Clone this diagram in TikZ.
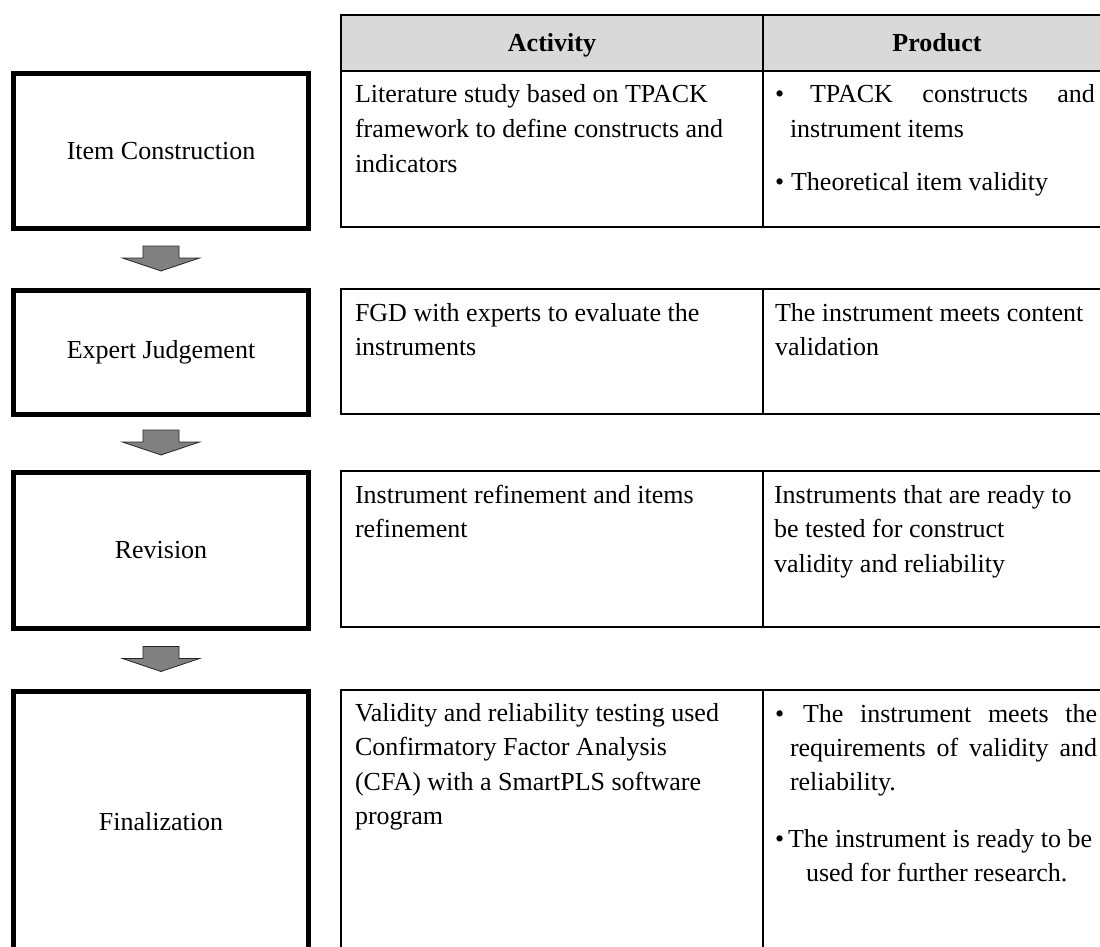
\documentclass[tikz,border=0pt]{standalone}
\usepackage{fontspec}
\setmainfont{Liberation Serif}
\usetikzlibrary{calc}
\definecolor{hdrgray}{HTML}{D9D9D9}
\definecolor{arrgray}{HTML}{808080}
\newcommand\stageArrow[2]{%
  \path[flow] ($(#1.south)!0.5!(#2.north)+(-18,-13.5)$) -- ++(36,0) -- ++(0,12)
    -- ++(20.5,0) -- ++(-38.5,13) -- ++(-38.5,-13) -- ++(20.5,0) -- cycle;}
\begin{document}
\begin{tikzpicture}[x=1pt,y=-1pt,
  every node/.style={font=\fontsize{26}{34.5}\selectfont, inner sep=0pt, outer sep=0pt},
  stage/.style={draw, line width=5pt, minimum width=295pt, align=center, outer sep=2.5pt},
  cell/.style={anchor=base west},
  head/.style={anchor=base, font=\fontsize{26}{30}\selectfont\bfseries},
  tline/.style={line width=1.8pt},
  flow/.style={fill=arrgray, draw=black!85, line width=0.8pt, line join=miter}
]
\path[use as bounding box, clip] (0,0) rectangle (1100,947);

% stages
\node[stage, minimum height=155pt] (s1) at (161,151) {Item Construction};
\node[stage, minimum height=124pt] (s2) at (161,352.5) {Expert Judgement};
\node[stage, minimum height=156pt] (s3) at (161,550.5) {Revision};
\node[stage, minimum height=261pt] (s4) at (161,822) {Finalization};

\stageArrow{s1}{s2}
\stageArrow{s2}{s3}
\stageArrow{s3}{s4}

% table header
\path[fill=hdrgray] (341,15) rectangle (1111,71);
\draw[tline] (341,15) rectangle (1111,71);
\draw[tline] (763,15) -- (763,71);
\node[head] (hact) at (552,52) {Activity};
\node[head] (hprod) at (937,52) {Product};

% rows
\draw[tline] (341,71) rectangle (1111,227);
\draw[tline] (763,71) -- (763,227);
\draw[tline] (341,289) rectangle (1111,414);
\draw[tline] (763,289) -- (763,414);
\draw[tline] (341,471) rectangle (1111,627);
\draw[tline] (763,471) -- (763,627);
\draw[tline] (341,690) rectangle (1111,965);
\draw[tline] (763,690) -- (763,965);

% row 1
\node[cell] (a1a) at (355,103) {Literature study based on TPACK};
\node[cell] (a1b) at (355,137.5) {framework to define constructs and};
\node[cell] (a1c) at (355,172) {indicators};
\node[cell] (p1a) at (775,103) {\hbox to 320pt{\textbullet\hspace{26pt}TPACK\hfill constructs\hfill and}};
\node[cell] (p1b) at (790,138) {instrument items};
\node[cell] (p1c) at (775,190) {\textbullet\hspace{7pt}Theoretical item validity};

% row 2
\node[cell] (a2a) at (355,321) {FGD with experts to evaluate the};
\node[cell] (a2b) at (355,355.5) {instruments};
\node[cell] (p2a) at (775,321) {The instrument meets content};
\node[cell] (p2b) at (775,355.5) {validation};

% row 3
\node[cell] (a3a) at (355,503) {Instrument refinement and items};
\node[cell] (a3b) at (355,537.5) {refinement};
\node[cell] (p3a) at (774,503) {Instruments that are ready to};
\node[cell] (p3b) at (774,537.5) {be tested for construct};
\node[cell] (p3c) at (774,572) {validity and reliability};

% row 4
\node[cell] (a4a) at (355,721) {Validity and reliability testing used};
\node[cell] (a4b) at (355,755.5) {Confirmatory Factor Analysis};
\node[cell] (a4c) at (355,790) {(CFA) with a SmartPLS software};
\node[cell] (a4d) at (355,824.5) {program};
\node[cell] (p4a) at (775,722) {\hbox to 322pt{\textbullet\hspace{19pt}The\hfill instrument\hfill meets\hfill the}};
\node[cell] (p4b) at (790,756) {\hbox to 307pt{requirements\hfill of\hfill validity\hfill and}};
\node[cell] (p4c) at (790,790) {reliability.};
\node[cell] (p4d) at (775,847) {\textbullet\hspace{4pt}The instrument is ready to be};
\node[cell] (p4e) at (806,881) {used for further research.};
\end{tikzpicture}
\end{document}
